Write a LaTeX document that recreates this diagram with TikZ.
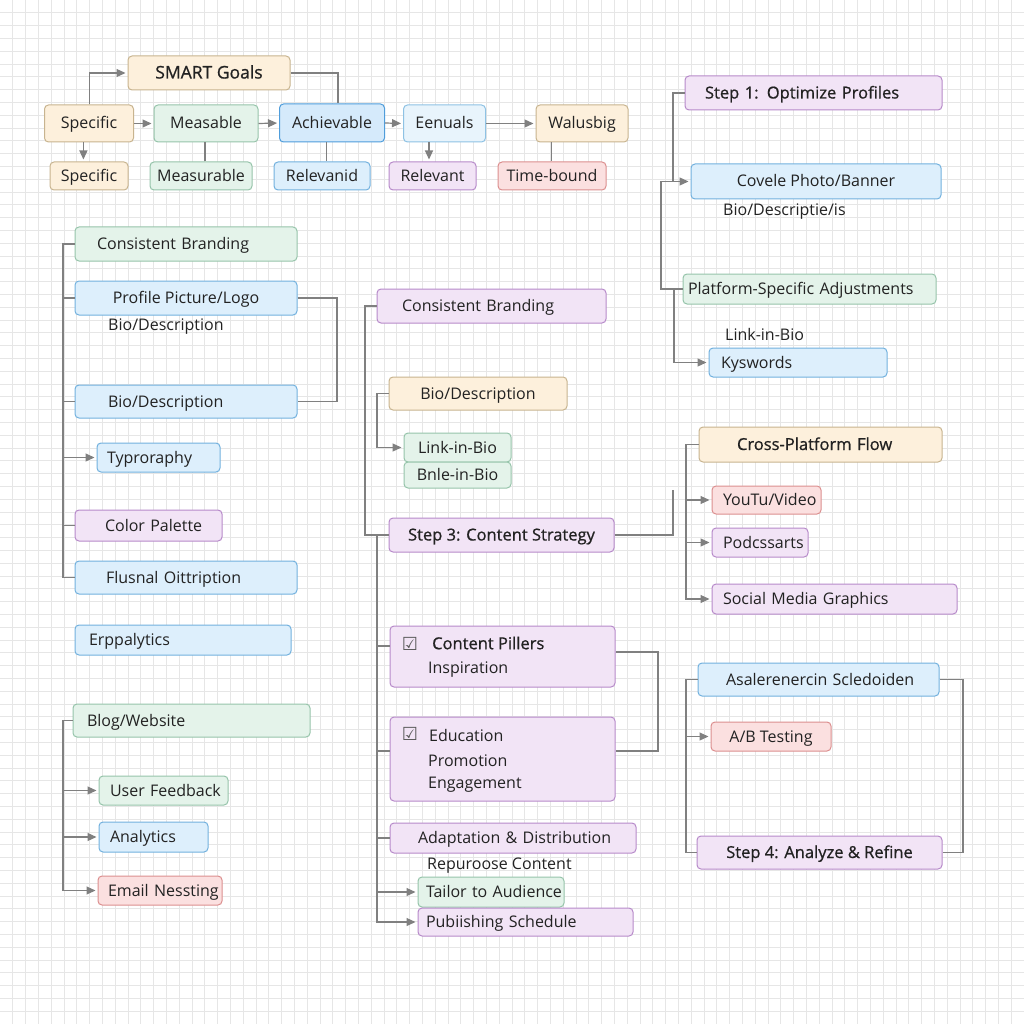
\documentclass[tikz,border=0pt]{standalone}
\usepackage{fontspec}
\setmainfont{Open Sans}
\newfontfamily\semib[FakeBold=0.8]{Open Sans}
\newfontfamily\symf{DejaVu Sans}
\usetikzlibrary{arrows.meta}
\definecolor{ink}{HTML}{222222}
\definecolor{gridc}{HTML}{E6E6E6}
\definecolor{conc}{HTML}{808080}
\definecolor{OF}{HTML}{FDF0DC}\definecolor{OB}{HTML}{C8B48F}
\definecolor{GF}{HTML}{E4F3EA}\definecolor{GB}{HTML}{96C4AA}
\definecolor{BF}{HTML}{DDEFFC}\definecolor{BB}{HTML}{72B1DE}
\definecolor{AF}{HTML}{D5EAFB}\definecolor{AB}{HTML}{4F9DDB}
\definecolor{LF}{HTML}{E8F4FC}\definecolor{LB}{HTML}{8EC2E4}
\definecolor{PF}{HTML}{F2E4F6}\definecolor{PB}{HTML}{B78ACA}
\definecolor{RF}{HTML}{FBE0E0}\definecolor{RB}{HTML}{DC8F8F}
\tikzset{
  bx/.style={draw=#1B, fill=#1F, rounded corners=4pt, line width=1pt, inner sep=0pt,
             font=\fontsize{16}{19}\selectfont, text=ink, align=center,
             text height=12pt, text depth=1pt},
  sb/.style={font=\semib\fontsize{16.5}{19}\selectfont},
  free/.style={inner sep=0pt, anchor=west, font=\fontsize{16}{19}\selectfont, text=ink},
  conn/.style={draw=conc, line width=1.2pt},
  arr/.style={conn, -{Triangle[length=9pt,width=8pt]}, shorten >=2pt},
  ck/.style={inner sep=0pt, font=\symf\fontsize{18}{18}\selectfont, text=ink!75},
}
\begin{document}
\begin{tikzpicture}[x=1pt,y=-1pt]
\useasboundingbox (0,0) rectangle (1024,1024);
\fill[white] (0,0) rectangle (1024,1024);
\foreach \i in {1,...,79}{
  \draw[gridc, line width=0.7pt] (\i*12.8,0) -- (\i*12.8,1024);
  \draw[gridc, line width=0.7pt] (0,\i*12.8) -- (1024,\i*12.8);
}
% ---------------- SMART goals
\node[bx=O, sb, font=\semib\fontsize{17.5}{20}\selectfont, minimum width=162, minimum height=34] (smart) at (209,73) {SMART Goals};
\node[bx=O, minimum width=89, minimum height=37] (sp1) at (89,123.5) {Specific};
\node[bx=G, minimum width=104, minimum height=37] (meas) at (206,123.5) {Measable};
\node[bx=A, minimum width=105, minimum height=38] (ach) at (332,123) {Achievable};
\node[bx=L, minimum width=82, minimum height=37] (een) at (444.5,123.5) {Eenuals};
\node[bx=O, minimum width=92, minimum height=37] (wal) at (582,123.5) {Walusbig};
\node[bx=O, minimum width=78, minimum height=28] (sp2) at (89,176) {Specific};
\node[bx=G, minimum width=102, minimum height=28] (mea2) at (201,176) {Measurable};
\node[bx=B, minimum width=96, minimum height=28] (rlv1) at (322,176) {Relevanid};
\node[bx=P, minimum width=87, minimum height=28] (rlv2) at (432.5,176) {Relevant};
\node[bx=R, minimum width=108, minimum height=28] (tb) at (552,176) {Time-bound};

\draw[arr] (sp1.north -| 89.3,0) -- (89.3,73) -- (smart.west);
\draw[conn] (smart.east) -- (338,73) -- (ach.north -| 338,0);
\draw[arr] (sp1.east) -- (meas.west);
\draw[arr] (meas.east) -- (ach.west);
\draw[arr] (ach.east) -- (een.west);
\draw[arr] (een.east) -- (wal.west);
\draw[arr] (sp1.south -| 83.4,0) -- (sp2.north -| 83.4,0);
\draw[conn] (meas.south -| 205,0) -- (mea2.north -| 205,0);
\draw[conn] (ach.south -| 326.4,0) -- (rlv1.north -| 326.4,0);
\draw[arr] (een.south -| 429,0) -- (rlv2.north -| 429,0);
\draw[conn] (wal.south -| 551.7,0) -- (tb.north -| 551.7,0);

% ---------------- Step 1
\node[bx=P, sb, minimum width=257, minimum height=34, text width=217pt, align=left] (s1) at (813.5,93) {\mbox{Step 1: Optimize Profiles}};
\node[bx=B, minimum width=250, minimum height=35] (cov) at (816,181.5) {Covele Photo/Banner};
\node[free] (bdi) at (723,212) {Bio/Descriptie/is};
\node[bx=G, minimum width=253, minimum height=30, text width=243pt, align=left] (plat) at (809.5,289) {\mbox{Platform-Specific Adjustments}};
\node[free] (lib1) at (725,334) {Link-in-Bio};
\node[bx=B, minimum width=178, minimum height=29, text width=154pt, align=left] (kys) at (798,362.5) {\mbox{Kyswords}};

\draw[conn] (s1.west) -- (673,93) -- (673,181.5);
\draw[arr] (661,181.5) -- (cov.west);
\draw[conn] (661,181.5) |- (plat.west);
\draw[arr] (674,289) |- (kys.west);

% ---------------- left column
\node[bx=G, minimum width=222, minimum height=34, text width=178pt, align=left] (cb1) at (186,244) {\mbox{Consistent Branding}};
\node[bx=B, minimum width=222, minimum height=34] (prof) at (186,298) {Profile Picture/Logo};
\node[free] (bdt) at (108,327) {Bio/Description};
\node[bx=B, minimum width=222, minimum height=33, text width=156pt, align=left] (bio1) at (186,401.5) {\mbox{Bio/Description}};
\node[bx=B, minimum width=123, minimum height=29, text width=103pt, align=left] (typo) at (158.5,457.5) {\mbox{Typroraphy}};
\node[bx=P, minimum width=147, minimum height=31, text width=87pt, align=left] (colp) at (148.5,525.5) {\mbox{Color Palette}};
\node[bx=B, minimum width=222, minimum height=33, text width=160pt, align=left] (flus) at (186,577.5) {\mbox{Flusnal Oittription}};
\node[bx=B, minimum width=216, minimum height=30, text width=188pt, align=left] (erp) at (183,640) {\mbox{Erppalytics}};

\draw[conn] (cb1.west) -- (63,244) |- (flus.west);
\draw[conn] (63,298) -- (prof.west);
\draw[conn] (63,401.5) -- (bio1.west);
\draw[arr] (63,457.5) -- (typo.west);
\draw[conn] (63,525.5) -- (colp.west);
\draw[conn] (prof.east) -- (337,298) |- (bio1.east);

\node[bx=G, minimum width=237, minimum height=33, text width=209pt, align=left] (blog) at (191.5,720.5) {\mbox{Blog/Website}};
\node[bx=G, minimum width=129, minimum height=29, text width=107pt, align=left] (uf) at (163.5,790.5) {\mbox{User Feedback}};
\node[bx=B, minimum width=109, minimum height=30, text width=87pt, align=left] (ana) at (153.5,837) {\mbox{Analytics}};
\node[bx=R, minimum width=124, minimum height=29, text width=104pt, align=left] (em) at (160,890.5) {\mbox{Email Nessting}};

\draw[arr] (blog.west) -- (63,720.5) |- (em.west);
\draw[arr] (63,790.5) -- (uf.west);
\draw[arr] (63,837) -- (ana.west);

% ---------------- middle column
\node[bx=P, minimum width=229, minimum height=34, text width=179pt, align=left] (cb2) at (491.5,306) {\mbox{Consistent Branding}};
\node[bx=O, minimum width=178, minimum height=33] (biod) at (478,393.5) {Bio/Description};
\node[bx=G, minimum width=107, minimum height=29] (lnk) at (457.5,447.5) {Link-in-Bio};
\node[bx=G, minimum width=107, minimum height=26] (bnl) at (457.5,475) {Bnle-in-Bio};
\node[bx=P, sb, minimum width=225, minimum height=34] (s3) at (501.5,535) {Step 3: Content Strategy};
\coordinate (s3end) at (673,490);

\draw[conn] (cb2.west) -- (365,306) |- (s3.west);
\draw[arr] (biod.west) -- (377,393.5) |- (lnk.west);
\draw[conn] (s3.east) -- (673,535) -- (s3end);

\node[bx=P, minimum width=225, minimum height=61] (cp) at (502.5,656.5) {};
\node[ck] (ck1) at (410,643.5) {☑};
\node[free, sb] (cpt) at (432,643) {Content Pillers};
\node[free] (insp) at (428,670) {Inspiration};
\node[bx=P, minimum width=225, minimum height=84] (ed) at (502.5,759) {};
\node[ck] (ck2) at (410,734) {☑};
\node[free] (edt) at (429,735) {Education};
\node[free] (prm) at (428,761) {Promotion};
\node[free] (eng) at (428,785) {Engagement};
\node[bx=P, minimum width=246, minimum height=30, text width=190pt, align=left] (adp) at (513,838) {\mbox{Adaptation \& Distribution}};
\node[free] (rep) at (427,866) {Repuroose Content};
\node[bx=G, minimum width=146, minimum height=30, text width=130pt, align=left] (tai) at (491,892) {\mbox{Tailor to Audience}};
\node[bx=P, minimum width=215, minimum height=28, text width=199pt, align=left] (pub) at (525.5,922) {\mbox{Pubiishing Schedule}};

\draw[arr] (377,535) |- (pub.west);
\draw[conn] (377,646) -- (cp.west |- 0,646);
\draw[conn] (377,751) -- (ed.west |- 0,751);
\draw[conn] (377,838) -- (adp.west);
\draw[arr] (377,892) -- (tai.west);
\draw[conn] (cp.east |- 0,652) -- (658,652) |- (ed.east |- 0,751);

% ---------------- right column
\node[bx=O, sb, minimum width=243, minimum height=35, text width=167pt, align=left] (cpf) at (820.5,444.5) {\mbox{Cross-Platform Flow}};
\node[bx=R, minimum width=109, minimum height=28, text width=87pt, align=left] (yt) at (766.5,500) {\mbox{YouTu/Video}};
\node[bx=P, minimum width=96, minimum height=29, text width=74pt, align=left] (pod) at (760,542.5) {\mbox{Podcssarts}};
\node[bx=P, minimum width=245, minimum height=30, text width=223pt, align=left] (smg) at (834.5,599) {\mbox{Social Media Graphics}};

\draw[arr] (cpf.west) -- (686,444.5) |- (smg.west);
\draw[arr] (686,500) -- (yt.west);
\draw[arr] (686,542.5) -- (pod.west);

\node[bx=B, minimum width=241, minimum height=33, text width=185pt, align=left] (asl) at (818.5,679.5) {\mbox{Asalerenercin Scledoiden}};
\node[bx=R, minimum width=120, minimum height=29] (ab) at (771,736.5) {A/B Testing};
\node[bx=P, sb, minimum width=245, minimum height=33] (s4) at (819.5,852.5) {Step 4: Analyze \& Refine};

\draw[conn] (asl.west) -- (686,679.5) |- (s4.west);
\draw[arr] (686,736.5) -- (ab.west);
\draw[conn] (asl.east) -- (963,679.5) |- (s4.east);
\end{tikzpicture}
\end{document}
